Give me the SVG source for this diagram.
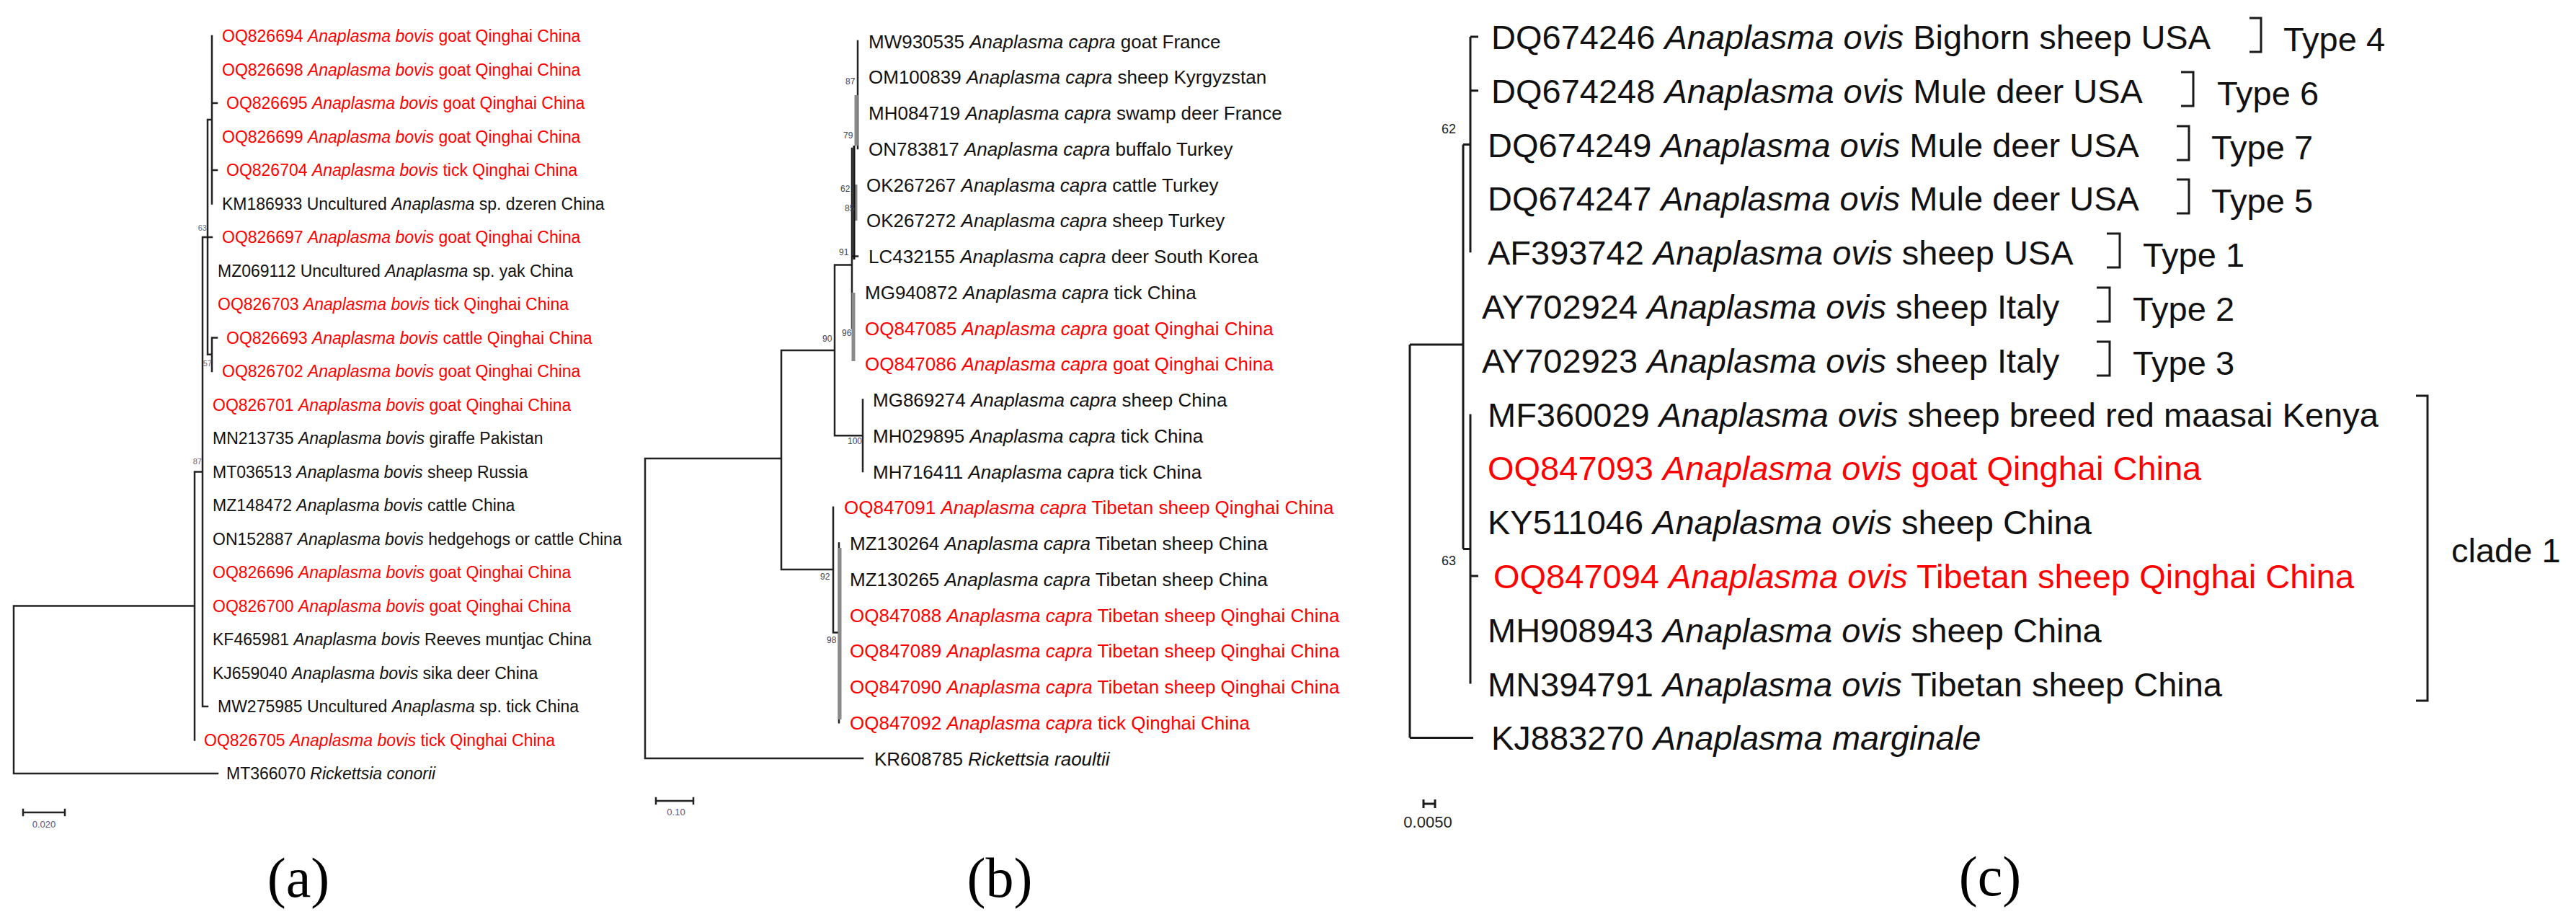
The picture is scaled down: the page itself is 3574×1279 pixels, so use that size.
<svg xmlns="http://www.w3.org/2000/svg" width="3574" height="1279" viewBox="0 0 3574 1279">
<style>
text{font-family:"Liberation Sans",Arial,sans-serif;fill:#111}
.a{font-size:23px}
.b{font-size:26px}
.c{font-size:47px}
.r{fill:#f00}
.i{font-style:italic}
.bs{font-size:11px;fill:#667}
.bsb{font-size:12px;fill:#445}
.bsc{font-size:18px;fill:#222}
.sc{font-size:13px;fill:#557;text-anchor:middle}
.lab{font-family:"Liberation Serif","Times New Roman",serif;font-size:78px;text-anchor:middle;fill:#000}
.ln{stroke:#222;fill:none;stroke-width:2.5;stroke-linecap:square}
.lc{stroke:#1a1a1a;fill:none;stroke-width:3}
.gr{stroke:#8a8a8a;fill:none;stroke-width:5}
.bk{stroke:#111;fill:none;stroke-width:3}
</style>
<defs>
<clipPath id="clipA"><rect x="0" y="0" width="866" height="1279"/></clipPath>
</defs>
<rect width="3574" height="1279" fill="#fff"/>

<!-- ========== Panel (a) ========== -->
<g id="panel-a" clip-path="url(#clipA)">
<g id="a-connectors">
<path class="ln" d="M294 50V282.5 M294 143H301 M294 236H301 M288 166H294 M288 166V491.75 M288 491.75H294 M294 468.5V515 M294 468.5H301 M281 329H294 M281 329V980 M281 980H288 M270 654.5H281 M270 654.5V1026.5 M19 840.5H270 M19 840.5V1073 M19 1073H302"/>
<path class="ln" d="M32 1127H90 M32 1123V1131 M90 1123V1131"/>
</g>
<g id="a-bootstrap">
<text class="bs" x="287" y="320" text-anchor="end">63</text>
<text class="bs" x="294" y="508" text-anchor="end">57</text>
<text class="bs" x="280" y="644" text-anchor="end">87</text>
</g>
<g id="a-OQ826694"><text class="a r" x="308" y="58">OQ826694 <tspan class="i">Anaplasma bovis</tspan> goat Qinghai China</text></g>
<g id="a-OQ826698"><text class="a r" x="308" y="104.5">OQ826698 <tspan class="i">Anaplasma bovis</tspan> goat Qinghai China</text></g>
<g id="a-OQ826695"><text class="a r" x="314" y="151">OQ826695 <tspan class="i">Anaplasma bovis</tspan> goat Qinghai China</text></g>
<g id="a-OQ826699"><text class="a r" x="308" y="197.5">OQ826699 <tspan class="i">Anaplasma bovis</tspan> goat Qinghai China</text></g>
<g id="a-OQ826704"><text class="a r" x="314" y="244">OQ826704 <tspan class="i">Anaplasma bovis</tspan> tick Qinghai China</text></g>
<g id="a-KM186933"><text class="a" x="308" y="290.5">KM186933 Uncultured <tspan class="i">Anaplasma</tspan> sp. dzeren China</text></g>
<g id="a-OQ826697"><text class="a r" x="308" y="337">OQ826697 <tspan class="i">Anaplasma bovis</tspan> goat Qinghai China</text></g>
<g id="a-MZ069112"><text class="a" x="302" y="383.5">MZ069112 Uncultured <tspan class="i">Anaplasma</tspan> sp. yak China</text></g>
<g id="a-OQ826703"><text class="a r" x="302" y="430">OQ826703 <tspan class="i">Anaplasma bovis</tspan> tick Qinghai China</text></g>
<g id="a-OQ826693"><text class="a r" x="314" y="476.5">OQ826693 <tspan class="i">Anaplasma bovis</tspan> cattle Qinghai China</text></g>
<g id="a-OQ826702"><text class="a r" x="308" y="523">OQ826702 <tspan class="i">Anaplasma bovis</tspan> goat Qinghai China</text></g>
<g id="a-OQ826701"><text class="a r" x="295" y="569.5">OQ826701 <tspan class="i">Anaplasma bovis</tspan> goat Qinghai China</text></g>
<g id="a-MN213735"><text class="a" x="295" y="616">MN213735 <tspan class="i">Anaplasma bovis</tspan> giraffe Pakistan</text></g>
<g id="a-MT036513"><text class="a" x="295" y="662.5">MT036513 <tspan class="i">Anaplasma bovis</tspan> sheep Russia</text></g>
<g id="a-MZ148472"><text class="a" x="295" y="709">MZ148472 <tspan class="i">Anaplasma bovis</tspan> cattle China</text></g>
<g id="a-ON152887"><text class="a" x="295" y="755.5">ON152887 <tspan class="i">Anaplasma bovis</tspan> hedgehogs or cattle China</text></g>
<g id="a-OQ826696"><text class="a r" x="295" y="802">OQ826696 <tspan class="i">Anaplasma bovis</tspan> goat Qinghai China</text></g>
<g id="a-OQ826700"><text class="a r" x="295" y="848.5">OQ826700 <tspan class="i">Anaplasma bovis</tspan> goat Qinghai China</text></g>
<g id="a-KF465981"><text class="a" x="295" y="895">KF465981 <tspan class="i">Anaplasma bovis</tspan> Reeves muntjac China</text></g>
<g id="a-KJ659040"><text class="a" x="295" y="941.5">KJ659040 <tspan class="i">Anaplasma bovis</tspan> sika deer China</text></g>
<g id="a-MW275985"><text class="a" x="302" y="988">MW275985 Uncultured <tspan class="i">Anaplasma</tspan> sp. tick China</text></g>
<g id="a-OQ826705"><text class="a r" x="283" y="1034.5">OQ826705 <tspan class="i">Anaplasma bovis</tspan> tick Qinghai China</text></g>
<g id="a-MT366070"><text class="a" x="314" y="1081">MT366070 <tspan class="i">Rickettsia conorii</tspan></text></g>
<g id="a-scale"><text class="sc" x="61" y="1148">0.020</text></g>
</g>
<g id="label-a"><text class="lab" x="414" y="1244">(a)</text></g>

<!-- ========== Panel (b) ========== -->
<g id="panel-b">
<g id="b-connectors">
<path class="ln" d="M895 636V1052 M895 636H1084 M895 1052H1197 M1084 486V790 M1084 486H1158 M1084 790H1156 M1158 367.5V604.25 M1158 367.5H1182 M1158 604.25H1197 M1197 554.5V654 M1156 703.75V877.6 M1156 877.6H1164 M1164 753.5V1002.25 M1190 57V206 M1182 206V455 M1182 355.5H1190"/>
<path class="gr" d="M1188 132V202 M1187 256V306 M1184 406V501 M1165 760V998"/>
<path class="bk" d="M1185 202V360"/>
<path class="ln" d="M910 1111H962 M910 1107V1115 M962 1107V1115"/>
</g>
<g id="b-bootstrap">
<text class="bsb" x="1173" y="117">87</text>
<text class="bsb" x="1170" y="192">79</text>
<text class="bsb" x="1166" y="266">62</text>
<text class="bsb" x="1172" y="293">85</text>
<text class="bsb" x="1164" y="354">91</text>
<text class="bsb" x="1141" y="474">90</text>
<text class="bsb" x="1168" y="466">96</text>
<text class="bsb" x="1176" y="616">100</text>
<text class="bsb" x="1138" y="804">92</text>
<text class="bsb" x="1147" y="892">98</text>
</g>
<g id="b-MW930535"><text class="b" x="1205" y="66.5">MW930535 <tspan class="i">Anaplasma capra</tspan> goat France</text></g>
<g id="b-OM100839"><text class="b" x="1205" y="116.25">OM100839 <tspan class="i">Anaplasma capra</tspan> sheep Kyrgyzstan</text></g>
<g id="b-MH084719"><text class="b" x="1205" y="166">MH084719 <tspan class="i">Anaplasma capra</tspan> swamp deer France</text></g>
<g id="b-ON783817"><text class="b" x="1205" y="215.75">ON783817 <tspan class="i">Anaplasma capra</tspan> buffalo Turkey</text></g>
<g id="b-OK267267"><text class="b" x="1202" y="265.5">OK267267 <tspan class="i">Anaplasma capra</tspan> cattle Turkey</text></g>
<g id="b-OK267272"><text class="b" x="1202" y="315.25">OK267272 <tspan class="i">Anaplasma capra</tspan> sheep Turkey</text></g>
<g id="b-LC432155"><text class="b" x="1205" y="365">LC432155 <tspan class="i">Anaplasma capra</tspan> deer South Korea</text></g>
<g id="b-MG940872"><text class="b" x="1200" y="414.75">MG940872 <tspan class="i">Anaplasma capra</tspan> tick China</text></g>
<g id="b-OQ847085"><text class="b r" x="1200" y="464.5">OQ847085 <tspan class="i">Anaplasma capra</tspan> goat Qinghai China</text></g>
<g id="b-OQ847086"><text class="b r" x="1200" y="514.25">OQ847086 <tspan class="i">Anaplasma capra</tspan> goat Qinghai China</text></g>
<g id="b-MG869274"><text class="b" x="1211" y="564">MG869274 <tspan class="i">Anaplasma capra</tspan> sheep China</text></g>
<g id="b-MH029895"><text class="b" x="1211" y="613.75">MH029895 <tspan class="i">Anaplasma capra</tspan> tick China</text></g>
<g id="b-MH716411"><text class="b" x="1211" y="663.5">MH716411 <tspan class="i">Anaplasma capra</tspan> tick China</text></g>
<g id="b-OQ847091"><text class="b r" x="1171" y="713.25">OQ847091 <tspan class="i">Anaplasma capra</tspan> Tibetan sheep Qinghai China</text></g>
<g id="b-MZ130264"><text class="b" x="1179" y="763">MZ130264 <tspan class="i">Anaplasma capra</tspan> Tibetan sheep China</text></g>
<g id="b-MZ130265"><text class="b" x="1179" y="812.75">MZ130265 <tspan class="i">Anaplasma capra</tspan> Tibetan sheep China</text></g>
<g id="b-OQ847088"><text class="b r" x="1179" y="862.5">OQ847088 <tspan class="i">Anaplasma capra</tspan> Tibetan sheep Qinghai China</text></g>
<g id="b-OQ847089"><text class="b r" x="1179" y="912.25">OQ847089 <tspan class="i">Anaplasma capra</tspan> Tibetan sheep Qinghai China</text></g>
<g id="b-OQ847090"><text class="b r" x="1179" y="962">OQ847090 <tspan class="i">Anaplasma capra</tspan> Tibetan sheep Qinghai China</text></g>
<g id="b-OQ847092"><text class="b r" x="1179" y="1011.75">OQ847092 <tspan class="i">Anaplasma capra</tspan> tick Qinghai China</text></g>
<g id="b-KR608785"><text class="b" x="1213" y="1061.5">KR608785 <tspan class="i">Rickettsia raoultii</tspan></text></g>
<g id="b-scale"><text class="sc" x="938" y="1131">0.10</text></g>
</g>
<g id="label-b"><text class="lab" x="1387" y="1244">(b)</text></g>

<!-- ========== Panel (c) ========== -->
<g id="panel-c">
<g id="c-connectors">
<path class="lc" d="M1956 478V1023.4 M1956 478H2030 M1956 1023.4H2044 M2030 200.6V761.6 M2030 200.6H2040 M2030 761.6H2040 M2040 51V350.2 M2040 51H2051 M2040 125.8H2051 M2040 574.6V948.6 M2040 799H2051"/>
<path class="lc" d="M1975 1115H1991 M1975 1109V1121 M1991 1109V1121"/>
<path class="lc" d="M3121 25H3137V72H3121 M3026 100H3043V147H3026 M3020 175H3037V222H3020 M3020 249H3037V296H3020 M2923 324H2941V371H2923 M2909 399H2927V446H2909 M2909 474H2927V521H2909 M3352 549H3368V972H3352"/>
</g>
<g id="c-bootstrap">
<text class="bsc" x="2000" y="185">62</text>
<text class="bsc" x="2000" y="784">63</text>
</g>
<g id="c-DQ674246"><text class="c" x="2069" y="68">DQ674246 <tspan class="i">Anaplasma ovis</tspan> Bighorn sheep USA</text></g>
<g id="c-DQ674248"><text class="c" x="2069" y="142.8">DQ674248 <tspan class="i">Anaplasma ovis</tspan> Mule deer USA</text></g>
<g id="c-DQ674249"><text class="c" x="2064" y="217.6">DQ674249 <tspan class="i">Anaplasma ovis</tspan> Mule deer USA</text></g>
<g id="c-DQ674247"><text class="c" x="2064" y="292.4">DQ674247 <tspan class="i">Anaplasma ovis</tspan> Mule deer USA</text></g>
<g id="c-AF393742"><text class="c" x="2064" y="367.2">AF393742 <tspan class="i">Anaplasma ovis</tspan> sheep USA</text></g>
<g id="c-AY702924"><text class="c" x="2056" y="442">AY702924 <tspan class="i">Anaplasma ovis</tspan> sheep Italy</text></g>
<g id="c-AY702923"><text class="c" x="2056" y="516.8">AY702923 <tspan class="i">Anaplasma ovis</tspan> sheep Italy</text></g>
<g id="c-MF360029"><text class="c" x="2064" y="591.6">MF360029 <tspan class="i">Anaplasma ovis</tspan> sheep breed red maasai Kenya</text></g>
<g id="c-OQ847093"><text class="c r" x="2064" y="666.4">OQ847093 <tspan class="i">Anaplasma ovis</tspan> goat Qinghai China</text></g>
<g id="c-KY511046"><text class="c" x="2064" y="741.2">KY511046 <tspan class="i">Anaplasma ovis</tspan> sheep China</text></g>
<g id="c-OQ847094"><text class="c r" x="2072" y="816">OQ847094 <tspan class="i">Anaplasma ovis</tspan> Tibetan sheep Qinghai China</text></g>
<g id="c-MH908943"><text class="c" x="2064" y="890.8">MH908943 <tspan class="i">Anaplasma ovis</tspan> sheep China</text></g>
<g id="c-MN394791"><text class="c" x="2064" y="965.6">MN394791 <tspan class="i">Anaplasma ovis</tspan> Tibetan sheep China</text></g>
<g id="c-KJ883270"><text class="c" x="2069" y="1040.4">KJ883270 <tspan class="i">Anaplasma marginale</tspan></text></g>
<g id="c-types">
<text class="c" x="3168" y="71">Type 4</text>
<text class="c" x="3076" y="145.8">Type 6</text>
<text class="c" x="3068" y="220.6">Type 7</text>
<text class="c" x="3068" y="295.4">Type 5</text>
<text class="c" x="2973" y="370.2">Type 1</text>
<text class="c" x="2959" y="445">Type 2</text>
<text class="c" x="2959" y="519.8">Type 3</text>
<text class="c" x="3401" y="780">clade 1</text>
</g>
<g id="c-scale"><text class="bsc" x="1981" y="1148" text-anchor="middle" style="font-size:22px">0.0050</text></g>
</g>
<g id="label-c"><text class="lab" x="2761" y="1242">(c)</text></g>
</svg>
